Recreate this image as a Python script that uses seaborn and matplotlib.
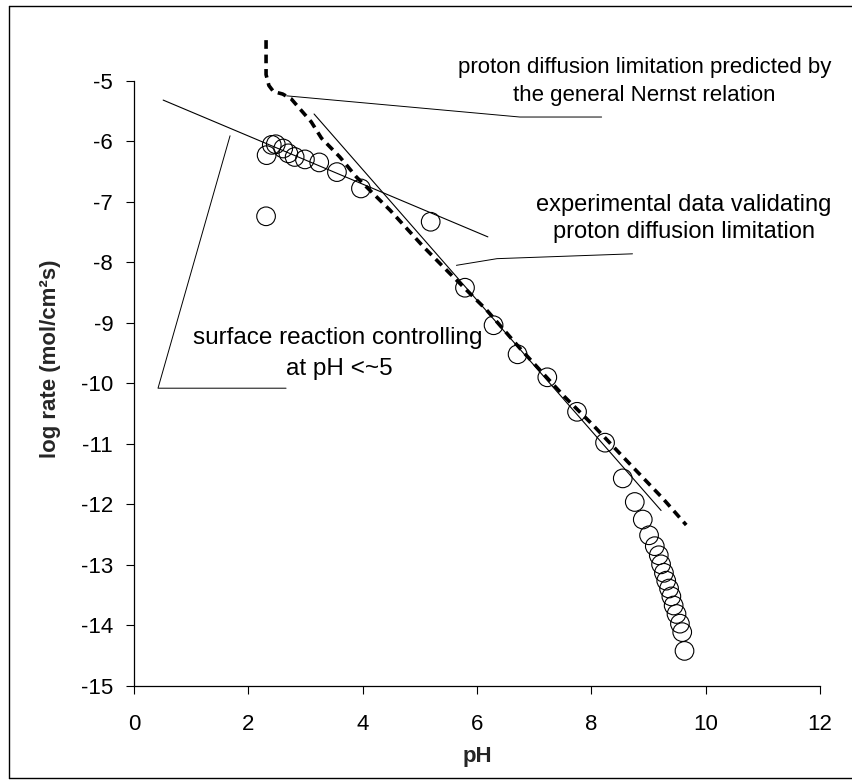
import numpy as np
import pandas as pd
import matplotlib
matplotlib.use("Agg")
import matplotlib.pyplot as plt
from matplotlib.lines import Line2D
import seaborn as sns

# ---------------- data ----------------
exp_ph = [2.32, 2.31, 2.41, 2.48, 2.61, 2.70, 2.81, 2.99, 3.24, 3.55, 3.97, 5.19,
          5.79, 6.29, 6.71, 7.23, 7.75, 8.24, 8.55, 8.76, 8.90, 9.01, 9.11, 9.18,
          9.22, 9.27, 9.31, 9.36, 9.40, 9.44, 9.49, 9.55, 9.59, 9.63]
exp_rate = [-6.23, -7.24, -6.06, -6.05, -6.12, -6.20, -6.26, -6.30, -6.35, -6.51, -6.78, -7.33,
            -8.42, -9.04, -9.52, -9.90, -10.47, -10.98, -11.57, -11.96, -12.25, -12.51, -12.69, -12.84,
            -12.99, -13.13, -13.26, -13.39, -13.52, -13.67, -13.81, -13.97, -14.11, -14.42]

nernst_ph = [2.31, 2.31, 2.36, 2.44, 2.60, 2.75, 3.10, 3.28, 3.60, 3.89, 4.48, 4.77,
             5.06, 5.52, 6.17, 6.75, 7.53, 8.03, 8.55, 9.25, 9.66]
nernst_rate = [-4.33, -4.90, -5.08, -5.18, -5.22, -5.30, -5.68, -5.95, -6.26, -6.59, -7.14, -7.44,
               -7.74, -8.18, -8.79, -9.42, -10.22, -10.69, -11.21, -11.90, -12.34]

surface_fit_ph = [0.51, 6.19]
surface_fit_rate = [-5.32, -7.58]

diffusion_fit_ph = [3.15, 9.22]
diffusion_fit_rate = [-5.55, -12.10]

leader_nernst_ph = [2.67, 6.75, 8.18]
leader_nernst_rate = [-5.25, -5.60, -5.60]
leader_exp_ph = [5.64, 6.35, 8.72]
leader_exp_rate = [-8.05, -7.94, -7.86]
leader_surf_ph = [1.68, 0.42, 2.66]
leader_surf_rate = [-5.91, -10.08, -10.08]

x_ticks = [0, 2, 4, 6, 8, 10, 12]
y_ticks = [-15, -14, -13, -12, -11, -10, -9, -8, -7, -6, -5]

# ---------------- style ----------------
sns.set_theme(style="white")
plt.rcParams["font.family"] = ["Liberation Sans", "DejaVu Sans"]
plt.rcParams["axes.unicode_minus"] = False

fig = plt.figure(figsize=(8.53, 7.80), dpi=100)
ax = fig.add_axes([0.1571, 0.12051, 0.8042, 0.8381])

exp_df = pd.DataFrame({"pH": exp_ph, "rate": exp_rate})
sns.scatterplot(data=exp_df, x="pH", y="rate", ax=ax, marker="o", s=180,
                facecolors="none", edgecolor="black", linewidth=0.8, zorder=3)
for coll in ax.collections:
    coll.set_facecolor("none")
    coll.set_edgecolor("black")

def line(xs, ys, **kw):
    df = pd.DataFrame({"x": xs, "y": ys})
    sns.lineplot(data=df, x="x", y="y", sort=False, estimator=None, ax=ax, **kw)

line(surface_fit_ph, surface_fit_rate, color="black", linewidth=0.8)
line(diffusion_fit_ph, diffusion_fit_rate, color="black", linewidth=0.8)
line(leader_nernst_ph, leader_nernst_rate, color="black", linewidth=0.7)
line(leader_exp_ph, leader_exp_rate, color="black", linewidth=0.7)
line(leader_surf_ph, leader_surf_rate, color="black", linewidth=0.7)
line(nernst_ph, nernst_rate, color="black", linewidth=2.6, dashes=False, zorder=4)
ax.lines[-1].set_dashes((2.4, 1.6))

ax.set_xlim(0, 12)
ax.set_ylim(-15, -4.2)
ax.set_xticks(x_ticks)
ax.set_yticks(y_ticks)
ax.set_xticklabels([str(t) for t in x_ticks])
ax.set_yticklabels([str(t) for t in y_ticks])
ax.spines["top"].set_visible(False)
ax.spines["right"].set_visible(False)
ax.spines["left"].set_bounds(-15, -5)
for s in ["left", "bottom"]:
    ax.spines[s].set_color("black")
    ax.spines[s].set_linewidth(0.9)
ax.tick_params(axis="both", direction="out", length=6, width=0.8, color="black",
               labelsize=16, labelcolor="black", left=True, bottom=True)
ax.tick_params(axis="y", pad=9)
ax.tick_params(axis="x", pad=14)
ax.grid(False)

ax.set_xlabel("pH", fontsize=16, fontweight="bold", labelpad=8)
ax.set_ylabel("log rate (mol/cm²s)", fontsize=16, fontweight="bold", labelpad=14)

tkw = dict(ha="center", va="center", color="black")
ax.text(8.93, -4.79, "proton diffusion limitation predicted by", fontsize=16, **tkw)
ax.text(8.93, -5.25, "the general Nernst relation", fontsize=16, **tkw)
ax.text(9.62, -7.06, "experimental data validating", fontsize=17, **tkw)
ax.text(9.62, -7.50, "proton diffusion limitation", fontsize=17, **tkw)
ax.text(3.57, -9.25, "surface reaction controlling", fontsize=17.5, **tkw)
ax.text(3.60, -9.77, "at pH <~5", fontsize=17.5, **tkw)

# outer frame (left, top, bottom)
fl = 9 / 853
ft = 1 - 6 / 780
fb = 1 - 778 / 780
for xs, ys in [([fl, fl], [fb, ft]), ([fl, 1.0], [ft, ft]), ([fl, 1.0], [fb, fb])]:
    fig.add_artist(Line2D(xs, ys, transform=fig.transFigure, color="black", linewidth=1.0))

fig.savefig("out.png", dpi=100)
